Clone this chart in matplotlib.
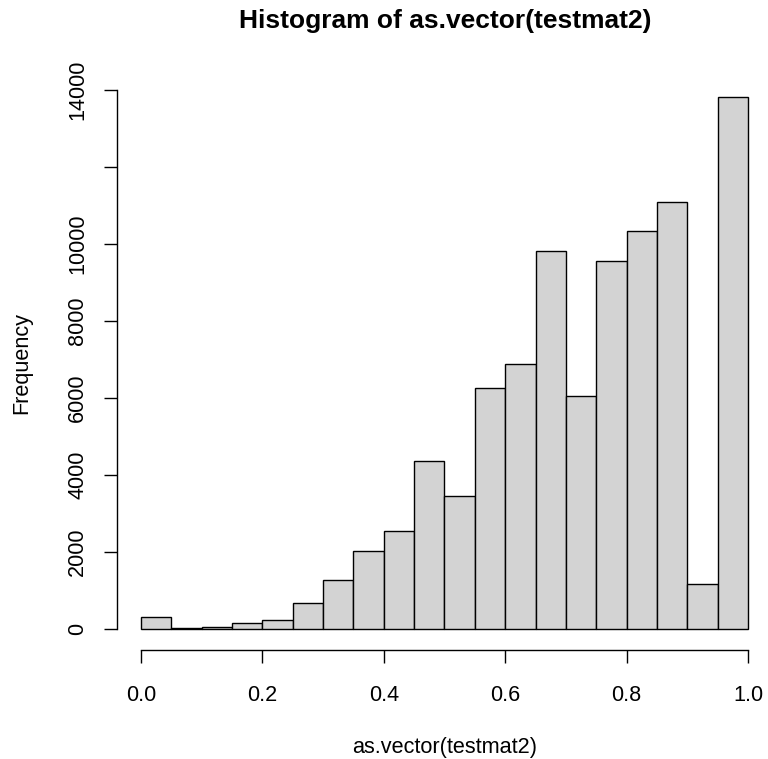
import matplotlib
matplotlib.use('Agg')
import matplotlib.pyplot as plt

plt.rcParams['font.family'] = ['Liberation Sans', 'DejaVu Sans']

breaks = [i * 0.05 for i in range(21)]
counts = [312, 15, 43, 165, 234, 675, 1270, 2025, 2545, 4360,
          3450, 6260, 6880, 9820, 6050, 9560, 10340, 11090, 1170, 13826]
xticks = [0.0, 0.2, 0.4, 0.6, 0.8, 1.0]
xlabels = ['0.0', '0.2', '0.4', '0.6', '0.8', '1.0']
yticks = [0, 2000, 4000, 6000, 8000, 10000, 12000, 14000]
ylabels = ['0', '2000', '4000', '6000', '8000', '10000', '', '14000']

W, H = 768, 759
px = 72 / 100  # points per pixel
fig = plt.figure(figsize=(W / 100, H / 100), dpi=100)
left, right, top, bottom = 116.7, 772.3, 75.4, 650.3
ax = fig.add_axes([left / W, 1 - bottom / H, (right - left) / W, (bottom - top) / H])

ax.bar(breaks[:-1], counts, width=0.05, align='edge', color='#d3d3d3',
       edgecolor='black', linewidth=1.0)

ymax = max(counts)
ax.set_xlim(-0.04, 1.04)
ax.set_ylim(-0.04 * ymax, 1.04 * ymax)

ax.spines['top'].set_visible(False)
ax.spines['right'].set_visible(False)
ax.spines['left'].set_bounds(0, 14000)
ax.spines['bottom'].set_bounds(0, 1)
ax.spines['left'].set_linewidth(1.0)
ax.spines['bottom'].set_linewidth(1.0)

fs = 15.6
ax.set_xticks(xticks)
ax.set_xticklabels(xlabels, fontsize=fs, va='baseline')
ax.set_yticks(yticks)
ax.set_yticklabels(ylabels, fontsize=fs, rotation=90, ha='center', va='baseline')
for lab in ax.get_yticklabels():
    lab.set_rotation_mode('anchor')
ax.tick_params(axis='both', direction='out', length=13 * px, width=1.0)
ax.tick_params(axis='x', pad=37.7 * px)
ax.tick_params(axis='y', pad=20.7 * px)

cx = (left + right) / 2 / W
fig.text(445 / W, 1 - 28 / H, 'Histogram of as.vector(testmat2)', ha='center',
         va='baseline', fontsize=19, fontweight='bold')
fig.text(cx, 1 - 753 / H, 'as.vector(testmat2)', ha='center', va='baseline', fontsize=fs)
fig.text(27.5 / W, 1 - 362.5 / H, 'Frequency', ha='center', va='baseline',
         rotation=90, rotation_mode='anchor', fontsize=fs)

plt.savefig('out.png', dpi=100)
